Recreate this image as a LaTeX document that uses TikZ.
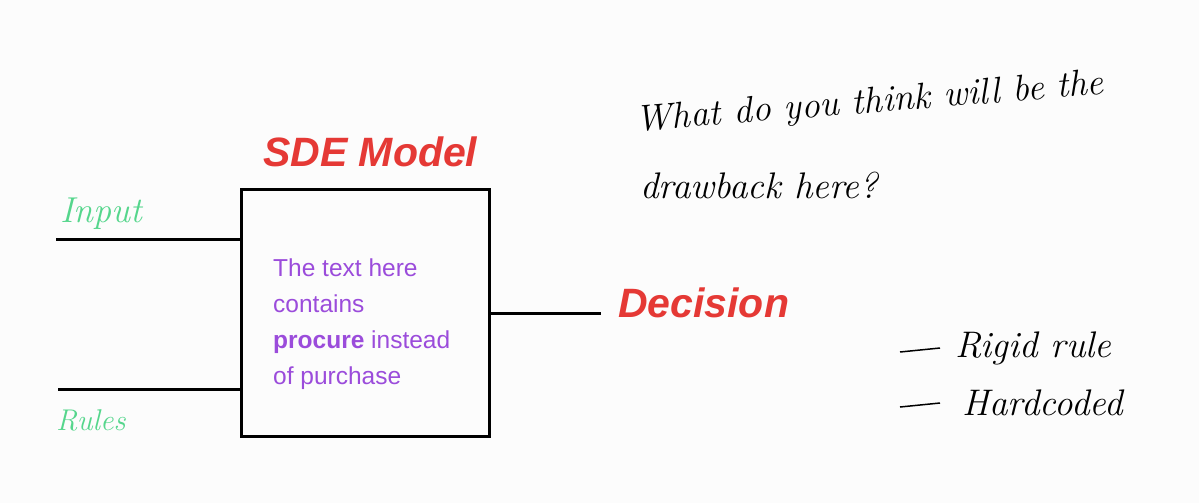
\documentclass[tikz,border=0pt]{standalone}
\usepackage{fontspec}
\setmainfont{Liberation Sans}
\newfontfamily\handfont{Latin Modern Roman}
\definecolor{bgc}{HTML}{FCFCFC}
\definecolor{redc}{HTML}{E53935}
\definecolor{greenc}{HTML}{55D68C}
\definecolor{purplec}{HTML}{9B4CDB}
\begin{document}
\begin{tikzpicture}[x=1pt,y=-1pt,
  wire/.style={line width=3pt},
  hand/.style={font=\handfont\itshape\fontsize{37}{37}\selectfont, text=black, inner sep=0pt, anchor=west},
  redlbl/.style={font=\bfseries\itshape\fontsize{41}{41}\selectfont, text=redc, inner sep=0pt, anchor=west},
  greenlbl/.style={font=\handfont\itshape\fontsize{36}{36}\selectfont, text=greenc, inner sep=0pt, anchor=west}]
\fill[bgc] (0,0) rectangle (1199,503);
\useasboundingbox (0,0) rectangle (1199,503);
% box
\node[draw, line width=3pt, minimum width=248pt, minimum height=247pt, inner sep=0pt] (model) at (365,312.5) {};
\node[anchor=north west, inner sep=0pt, text=purplec, align=left,
  font=\fontsize{24.5}{36}\selectfont] (txt) at (273,259)
  {The text here\\contains\\\textbf{procure} instead\\of purchase};
% wires
\coordinate (inA) at (56,239);
\coordinate (inB) at (58,389);
\coordinate (out) at (601,313);
\draw[wire] (inA) -- (inA -| model.west);
\draw[wire] (inB) -- (inB -| model.west);
\draw[wire] (out -| model.east) -- (out);
% labels
\node[greenlbl] (input) at (60,214) {Input};
\node[greenlbl, font=\handfont\itshape\fontsize{30}{30}\selectfont] (rules) at (56,420) {Rules};
\node[redlbl] (sde) at (263,152) {SDE Model};
\node[redlbl] (dec) at (618,303) {Decision};
% question
\node[hand, rotate=4.5] (q1) at (636,122) {What do you think will be the};
\node[hand] (q2) at (640,185) {drawback here?};
% bullets
\node[hand] (b1) at (955,348) {Rigid rule};
\node[hand] (b2) at (962,403) {Hardcoded};
\coordinate (d1) at (900,352);
\coordinate (d2) at (900,407);
\draw[line width=1.5pt] (d1) -- ([xshift=-15pt]b1.west);
\draw[line width=1.5pt] (d2) -- ([xshift=-22pt]b2.west);
\end{tikzpicture}
\end{document}
